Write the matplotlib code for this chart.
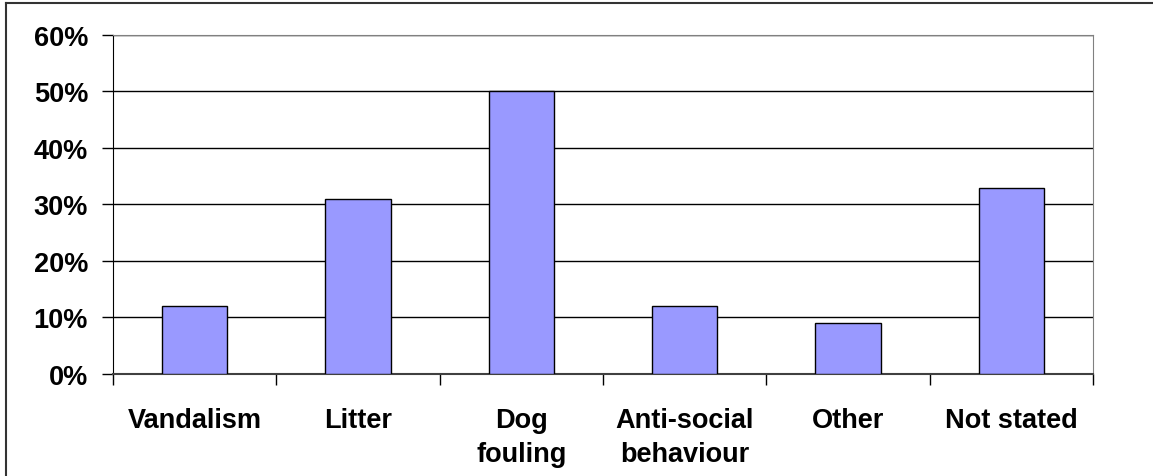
import numpy as np
import matplotlib.pyplot as plt
from matplotlib.lines import Line2D

# data
categories = ['Vandalism', 'Litter', 'Dog\nfouling', 'Anti-social\nbehaviour', 'Other', 'Not stated']
values = [12, 31, 50, 12, 9, 33]
yticks = [0, 10, 20, 30, 40, 50, 60]

plt.rcParams['font.family'] = ['Liberation Sans', 'DejaVu Sans']

fig = plt.figure(figsize=(11.53, 4.77), dpi=100)
ax = fig.add_axes([0.098, 0.214, 0.850, 0.7105])

x = np.arange(len(categories))
ax.bar(x, values, width=0.4, color='#9999FF', edgecolor='black', linewidth=1, zorder=3)

ax.set_xlim(-0.5, len(categories) - 0.5)
ax.set_ylim(0, 60)
ax.set_yticks(yticks)
ax.set_yticklabels([f'{v}%' for v in yticks], fontsize=19.5, fontweight='bold')
ax.yaxis.grid(True, color='black', linewidth=1, zorder=0)
ax.tick_params(axis='y', length=8, width=1, direction='out', pad=10)

# category labels between boundary ticks
ax.set_xticks(x)
ax.set_xticklabels(categories, fontsize=19.5, fontweight='bold', linespacing=1.4, va='top')
ax.tick_params(axis='x', length=0, pad=24)
ax.set_xticks(np.arange(len(categories) + 1) - 0.5, minor=True)
ax.tick_params(axis='x', which='minor', length=8, width=1, direction='out')

for s in ['top', 'right']:
    ax.spines[s].set_color('#808080')
ax.spines['left'].set_color('black')
ax.spines['bottom'].set_color('#404040')
ax.spines['bottom'].set_linewidth(1.5)

# outer frame lines (top and left)
fig.add_artist(Line2D([0.005, 1.0], [0.991, 0.991], color='#333333', linewidth=1.5))
fig.add_artist(Line2D([0.0055, 0.0055], [0.0, 0.991], color='#333333', linewidth=1.5))

fig.savefig('out.png', dpi=100)
